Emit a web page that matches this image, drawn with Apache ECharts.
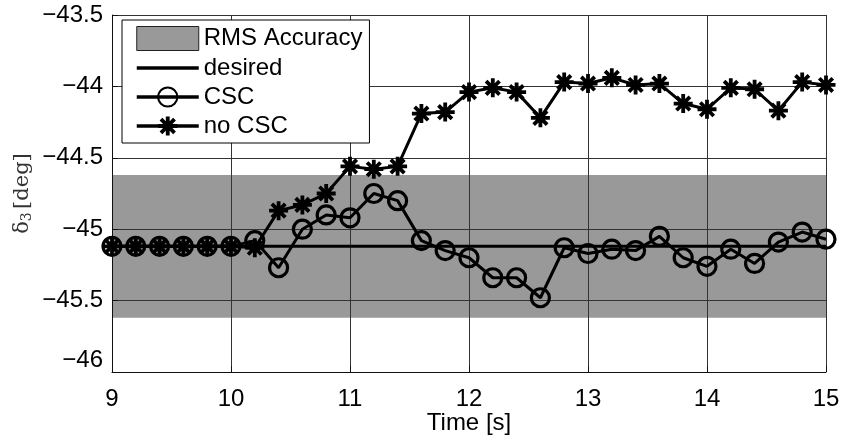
<!DOCTYPE html>
<html>
<head>
<meta charset="utf-8">
<script src="https://cdn.jsdelivr.net/npm/echarts@6/dist/echarts.min.js"></script>
<style>
  html, body { margin: 0; padding: 0; background: #fff; }
  #chart { width: 843px; height: 440px; }
</style>
</head>
<body>
<div id="chart"></div>
<script>
// Sample times [s]
const times = [9.0, 9.2, 9.4, 9.6, 9.8, 10.0, 10.2, 10.4, 10.6, 10.8, 11.0,
               11.2, 11.4, 11.6, 11.8, 12.0, 12.2, 12.4, 12.6, 12.8, 13.0,
               13.2, 13.4, 13.6, 13.8, 14.0, 14.2, 14.4, 14.6, 14.8, 15.0];

// Reference angle delta_3 [deg]
const desiredValue = -45.12;

// RMS accuracy band [deg]
const rmsLower = -45.62;
const rmsUpper = -44.62;

// delta_3 with CSC [deg]
const cscValues = [-45.12, -45.12, -45.12, -45.12, -45.12, -45.12, -45.08, -45.27, -45.00, -44.90, -44.92,
                   -44.75, -44.80, -45.08, -45.15, -45.20, -45.34, -45.34, -45.48, -45.13, -45.17,
                   -45.14, -45.15, -45.05, -45.20, -45.26, -45.14, -45.24, -45.09, -45.02, -45.07];

// delta_3 without CSC [deg]
const noCscValues = [-45.12, -45.12, -45.12, -45.12, -45.12, -45.12, -45.13, -44.87, -44.83, -44.75, -44.56,
                     -44.58, -44.56, -44.19, -44.18, -44.04, -44.01, -44.04, -44.22, -43.97, -43.98,
                     -43.94, -43.99, -43.98, -44.12, -44.16, -44.01, -44.02, -44.17, -43.97, -43.99];

// Axis ticks
const xTicks = [9, 10, 11, 12, 13, 14, 15];
const yTicks = [-46, -45.5, -45, -44.5, -44, -43.5];

const pair = (xs, ys) => xs.map((x, i) => [x, ys[i]]);
const desiredLine = times.map(t => [t, desiredValue]);

// Eight-armed asterisk marker
const asterisk = 'path://' +
  'M-10,-2L10,-2L10,2L-10,2Z' +
  'M2,-10L2,10L-2,10L-2,-10Z' +
  'M-5.66,-8.49L8.49,5.66L5.66,8.49L-8.49,-5.66Z' +
  'M-8.49,5.66L5.66,-8.49L8.49,-5.66L-5.66,8.49Z';

const minus = v => String(v).replace('-', '\u2212');
const font = '"Liberation Sans", Arial, Helvetica, sans-serif';
const serif = '"DejaVu Serif", "Liberation Serif", serif';

const chart = echarts.init(document.getElementById('chart'), null, { renderer: 'canvas' });

chart.setOption({
  animation: false,
  backgroundColor: '#fff',
  grid: { left: 112, right: 17, top: 15, bottom: 68, show: false, containLabel: false, outerBoundsMode: 'none' },
  legend: {
    orient: 'vertical',
    left: 122,
    top: 20,
    padding: [6, 7, 5, 13],
    itemWidth: 62,
    itemHeight: 24,
    itemGap: 5,
    backgroundColor: '#fff',
    borderColor: '#000',
    borderWidth: 1,
    lineStyle: { width: 3.5, color: '#000' },
    textStyle: { fontFamily: font, fontSize: 24, color: '#000' },
    data: [
      { name: 'RMS Accuracy', icon: 'rect',
        itemStyle: { color: '#999', borderColor: '#222', borderWidth: 1 } },
      { name: 'desired', itemStyle: { color: 'transparent', borderWidth: 0, opacity: 0 } },
      { name: 'CSC' },
      { name: 'no CSC' }
    ]
  },
  xAxis: {
    type: 'value',
    min: xTicks[0],
    max: xTicks[xTicks.length - 1],
    interval: 1,
    z: 2,
    name: 'Time [s]',
    nameLocation: 'middle',
    nameGap: 39,
    nameMoveOverlap: false,
    nameTextStyle: { fontFamily: font, fontSize: 24, color: '#000' },
    axisLine: { show: true, lineStyle: { color: '#111', width: 1 } },
    axisTick: { show: true, inside: true, length: 6, lineStyle: { color: '#111' } },
    axisLabel: { fontFamily: font, fontSize: 24, color: '#000', margin: 15 },
    splitLine: { show: true, lineStyle: { color: '#333', width: 1 } }
  },
  yAxis: {
    type: 'value',
    min: yTicks[0],
    max: yTicks[yTicks.length - 1],
    interval: 0.5,
    z: 2,
    name: '{d|\u03B4}{s|3} {d|[deg]}',
    nameLocation: 'middle',
    nameGap: 78,
    nameMoveOverlap: false,
    nameTextStyle: {
      rich: {
        d: { fontFamily: serif, fontSize: 21, color: '#333' },
        s: { fontFamily: serif, fontSize: 14, color: '#333', padding: [9, 0, 0, 0] }
      }
    },
    axisLine: { show: true, lineStyle: { color: '#111', width: 1 } },
    axisTick: { show: true, inside: true, length: 6, lineStyle: { color: '#111' } },
    axisLabel: {
      fontFamily: font, fontSize: 24, color: '#000', margin: 9,
      formatter: minus,
      verticalAlignMinLabel: 'bottom'
    },
    splitLine: { show: true, lineStyle: { color: '#333', width: 1 } }
  },
  series: [
    {
      name: 'RMS Accuracy',
      type: 'line',
      z: 1,
      silent: true,
      symbol: 'none',
      data: [[times[0], desiredValue]],
      lineStyle: { width: 0, opacity: 0 },
      itemStyle: { color: '#999' },
      markArea: {
        silent: true,
        itemStyle: { color: '#999', borderWidth: 0 },
        data: [[{ yAxis: rmsLower }, { yAxis: rmsUpper }]]
      }
    },
    {
      name: 'desired',
      type: 'line',
      z: 3,
      symbol: 'none',
      data: desiredLine,
      lineStyle: { color: '#000', width: 3 },
      itemStyle: { color: '#000' }
    },
    {
      name: 'CSC',
      type: 'line',
      z: 4,
      symbol: 'circle',
      symbolSize: 18,
      data: pair(times, cscValues),
      lineStyle: { color: '#000', width: 3 },
      itemStyle: { color: 'transparent', borderColor: '#000', borderWidth: 3.2 }
    },
    {
      name: 'no CSC',
      type: 'line',
      z: 5,
      symbol: asterisk,
      symbolSize: 19,
      data: pair(times, noCscValues),
      lineStyle: { color: '#000', width: 3 },
      itemStyle: { color: '#000', borderWidth: 0 }
    }
  ]
});
</script>
</body>
</html>
